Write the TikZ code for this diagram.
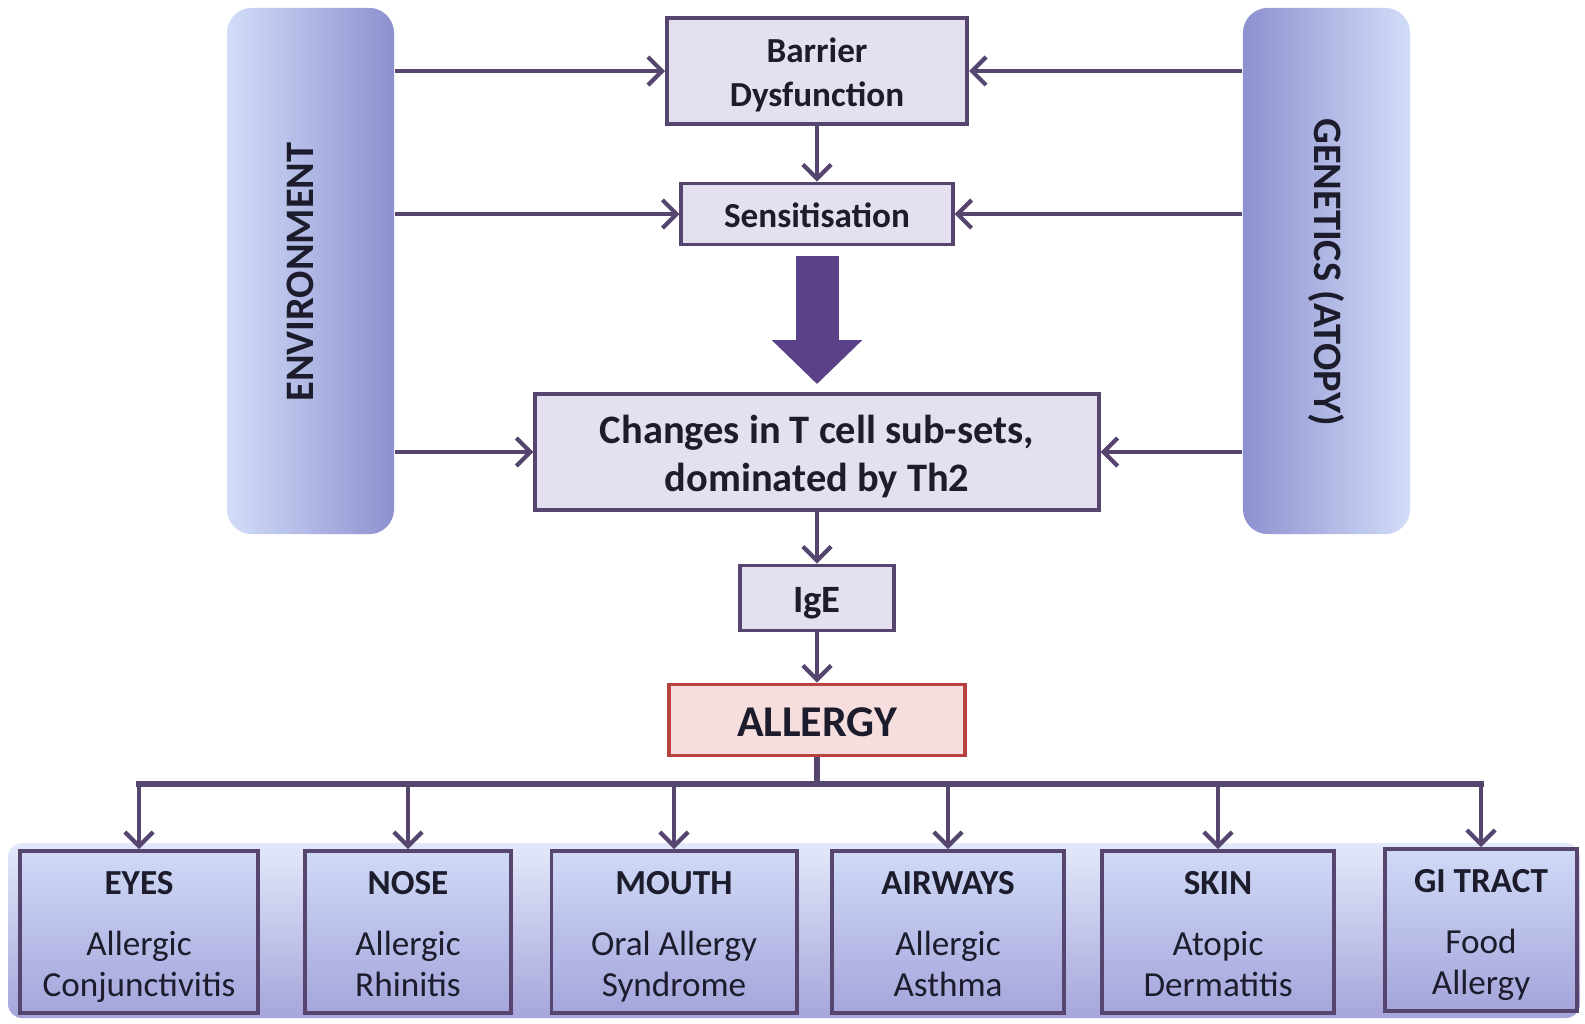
\documentclass[tikz,border=0pt]{standalone}
\usepackage{fontspec}
\setmainfont{Carlito}
\usetikzlibrary{arrows.meta,calc}
\definecolor{lineC}{HTML}{55456F}
\definecolor{boxF}{HTML}{E4E0EF}
\definecolor{arrowC}{HTML}{5B4288}
\definecolor{algF}{HTML}{F6DEDE}
\definecolor{algD}{HTML}{B8433E}
\definecolor{barL}{HTML}{D2DDF9}
\definecolor{barD}{HTML}{8D91CF}
\definecolor{botT}{HTML}{D0DAF7}
\definecolor{botB}{HTML}{A5A5DB}
\definecolor{txt}{HTML}{1C1C2C}
\newcommand{\st}{\rule[-0.22em]{0pt}{0.9em}}
\newcommand{\stT}{\rule[-0.22em]{0pt}{1.2em}}
\begin{document}
\begin{tikzpicture}[x=0.01cm,y=-0.01cm,
 flowbox/.style={draw=lineC, line width=1.1pt, fill=boxF, inner sep=0pt, align=center, text=txt, font=\bfseries\fontsize{10}{12.6}\selectfont},
 conn/.style={draw=lineC, line width=1.2pt, -{Straight Barb[length=4pt,width=8pt]}},
 organ/.style={draw=lineC, line width=1.1pt, top color=botT, bottom color=botB, minimum height=1.62cm, align=center, text=txt, font=\fontsize{10}{11.6}\selectfont, inner sep=0pt},
 sidebar/.style={rounded corners=0.25cm, minimum width=1.67cm, minimum height=5.26cm, inner sep=0pt},
 sidetext/.style={text=txt, font=\bfseries\fontsize{11.5}{13}\selectfont},
 busline/.style={draw=lineC, line width=1.6pt},
]
\useasboundingbox[fill=white] (0,0) rectangle (1585,1023);

% background panel behind the organ boxes
\shade[top color=botT!60!white, bottom color=botB, rounded corners=0.14cm] (8,843) rectangle (1580,1018);

% side bars
\node[sidebar, left color=barL, right color=barD] (env) at (310.5,271) {};
\node[sidetext, rotate=90] (envt) at (300,272) {ENVIRONMENT};
\node[sidebar, left color=barD, right color=barL] (gen) at (1326.5,271) {};
\node[sidetext, rotate=-90] (gent) at (1326,272) {GENETICS (ATOPY)};

% central column
\node[flowbox, minimum width=3.00cm, minimum height=1.06cm] (bar) at (817,71) {\stT Barrier\\\st Dysfunction};
\node[flowbox, minimum width=2.71cm, minimum height=0.61cm] (sens) at (817,214) {\stT Sensitisation};
\node[flowbox, minimum width=5.63cm, minimum height=1.16cm, font=\bfseries\fontsize{11.5}{13.6}\selectfont] (tcell) at (817,452) {\stT Changes in T cell sub-sets,\\\st dominated by Th2};
\node[flowbox, minimum width=1.54cm, minimum height=0.65cm, font=\bfseries\fontsize{11}{13}\selectfont] (ige) at (817,598) {\stT IgE};
\node[flowbox, fill=algF, draw=algD, minimum width=2.95cm, minimum height=0.71cm, font=\bfseries\fontsize{12.5}{14}\selectfont] (allergy) at (817,720) {\stT ALLERGY};

% organ boxes
\node[organ, minimum width=2.38cm] (eyes) at (139,932) {\stT\textbf{EYES}\\[6pt]\st Allergic\\\st Conjunctivitis};
\node[organ, minimum width=2.06cm] (nose) at (408,932) {\stT\textbf{NOSE}\\[6pt]\st Allergic\\\st Rhinitis};
\node[organ, minimum width=2.45cm] (mouth) at (674,932) {\stT\textbf{MOUTH}\\[6pt]\st Oral Allergy\\\st Syndrome};
\node[organ, minimum width=2.32cm] (airways) at (948,932) {\stT\textbf{AIRWAYS}\\[6pt]\st Allergic\\\st Asthma};
\node[organ, minimum width=2.32cm] (skin) at (1218,932) {\stT\textbf{SKIN}\\[6pt]\st Atopic\\\st Dermatitis};
\node[organ, minimum width=1.92cm] (gi) at (1481,930) {\stT\textbf{GI TRACT}\\[6pt]\st Food\\\st Allergy};

% side connectors
\foreach \t in {bar,sens,tcell}{
  \draw[conn] (env.east |- \t.west) -- (\t.west);
  \draw[conn] (gen.west |- \t.east) -- (\t.east);
}
% vertical connectors
\draw[conn] (bar.south) -- (sens.north);
\draw[arrowC, line width=0.43cm, -{Triangle[width=0.88cm,length=0.44cm]}, shorten <=0.1cm, shorten >=0.08cm] (sens.south) -- (tcell.north);
\draw[conn] (tcell.south) -- (ige.north);
\draw[conn] (ige.south) -- (allergy.north);

% bus to organs
\coordinate (bus) at (817,784);
\draw[busline] (allergy.south) -- (allergy.south |- bus);
\draw[busline, line cap=rect] (eyes.north |- bus) -- (gi.north |- bus);
\foreach \n in {eyes,nose,mouth,airways,skin,gi}{
  \draw[conn] (\n.north |- bus) -- (\n.north);
}
\end{tikzpicture}
\end{document}
